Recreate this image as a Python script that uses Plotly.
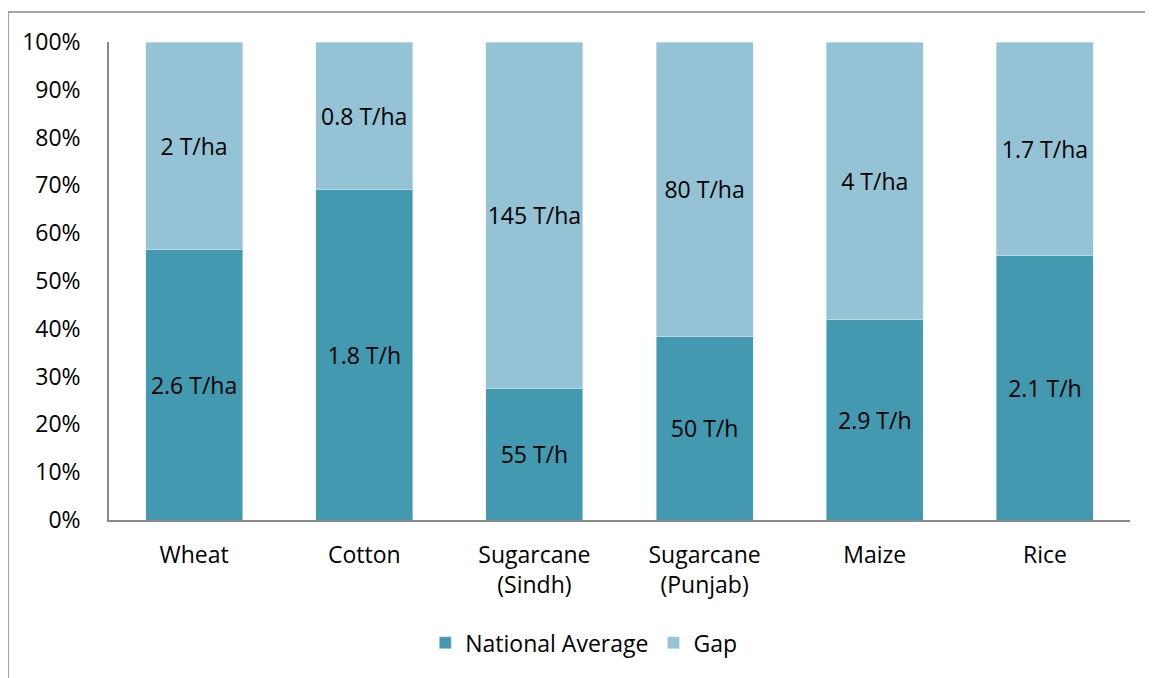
import plotly.graph_objects as go

categories = ["Wheat", "Cotton", "Sugarcane<br>(Sindh)", "Sugarcane<br>(Punjab)", "Maize", "Rice"]
national_avg = [2.6, 1.8, 55, 50, 2.9, 2.1]
gap = [2, 0.8, 145, 80, 4, 1.7]
national_labels = ["2.6 T/ha", "1.8 T/h", "55 T/h", "50 T/h", "2.9 T/h", "2.1 T/h"]
gap_labels = ["2 T/ha", "0.8 T/ha", "145 T/ha", "80 T/ha", "4 T/ha", "1.7 T/ha"]

FONT = "Open Sans, Calibri, sans-serif"
FS = 23
dark = "#4299B0"
light = "#93C3D5"

fig = go.Figure()
fig.add_trace(go.Bar(x=categories, y=national_avg, name="National Average", marker_color=dark,
                     text=national_labels, textposition="inside", insidetextanchor="middle",
                     textangle=0, constraintext="none",
                     textfont=dict(color="black", size=FS, family=FONT), hoverinfo="skip"))
fig.add_trace(go.Bar(x=categories, y=gap, name="Gap", marker_color=light,
                     text=gap_labels, textposition="inside", insidetextanchor="middle",
                     textangle=0, constraintext="none",
                     textfont=dict(color="black", size=FS, family=FONT), hoverinfo="skip"))

fig.update_layout(
    barmode="stack", barnorm="percent", bargap=0.43,
    width=1153, height=678,
    margin=dict(l=101, r=31, t=34, b=166),
    plot_bgcolor="white", paper_bgcolor="white",
    font=dict(family=FONT, size=FS, color="black"),
    legend=dict(orientation="h", x=0.465, xanchor="center", y=-0.257, yanchor="middle",
                font=dict(size=FS), traceorder="normal", itemwidth=30),
    yaxis=dict(range=[0, 100], tickvals=list(range(0, 101, 10)),
               ticktext=[f"{v}%" for v in range(0, 101, 10)],
               showgrid=False, showline=True, linecolor="#898989", linewidth=1.5,
               ticks="", ticklabelstandoff=22, zeroline=False),
    xaxis=dict(showline=True, linecolor="#898989", linewidth=1.5, ticks="",
               showgrid=False, tickfont=dict(size=FS), ticklabelstandoff=14),
    shapes=[
        dict(type="line", xref="paper", yref="paper", x0=-0.0989, y0=1.0628, x1=1.05, y1=1.0628,
             line=dict(color="#898989", width=1.5)),
        dict(type="line", xref="paper", yref="paper", x0=-0.0989, y0=1.0628, x1=-0.0989, y1=-0.4,
             line=dict(color="#898989", width=1.5)),
    ],
)

fig.write_html("out.html")
